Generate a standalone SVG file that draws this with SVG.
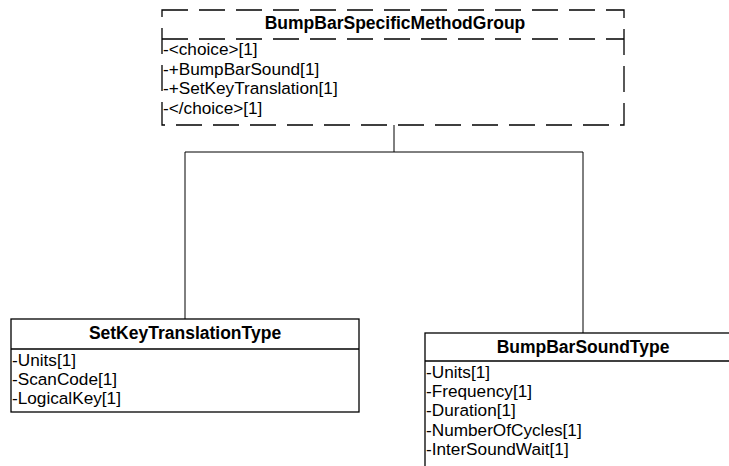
<svg xmlns="http://www.w3.org/2000/svg" width="729" height="466" viewBox="0 0 729 466">
<style>
.box{fill:#fff;stroke:#000;stroke-width:1.3}
.dash{fill:none;stroke:#000;stroke-width:1.3;stroke-dasharray:26 11}
.title{font-family:"Liberation Sans",Arial,sans-serif;font-size:17.5px;font-weight:bold;text-anchor:middle;fill:#000}
.attr{font-family:"Liberation Sans",Arial,sans-serif;font-size:17.2px;fill:#000}
.conn{fill:none;stroke:#000;stroke-width:1}
</style>
<rect width="729" height="466" fill="#fff"/>
<g id="connectors">
<polyline class="conn" points="394,125 394,152"/>
<polyline class="conn" points="185,319 185,152 583,152 583,333"/>
</g>
<g id="BumpBarSpecificMethodGroup">
<rect x="162" y="10" width="462" height="115" fill="#fff"/>
<rect class="dash" x="162" y="10" width="462" height="115"/>
<line class="dash" x1="162" y1="39" x2="624" y2="39"/>
<text class="title" x="395" y="29">BumpBarSpecificMethodGroup</text>
<text class="attr" x="163" y="55">-&lt;choice&gt;[1]</text>
<text class="attr" x="163" y="75">-+BumpBarSound[1]</text>
<text class="attr" x="163" y="94">-+SetKeyTranslation[1]</text>
<text class="attr" x="163" y="114">-&lt;/choice&gt;[1]</text>
</g>
<g id="SetKeyTranslationType">
<rect class="box" x="11" y="319" width="348" height="93"/>
<line class="box" x1="11" y1="349" x2="359" y2="349"/>
<text class="title" x="185" y="339">SetKeyTranslationType</text>
<text class="attr" x="12" y="366">-Units[1]</text>
<text class="attr" x="12" y="385">-ScanCode[1]</text>
<text class="attr" x="12" y="404">-LogicalKey[1]</text>
</g>
<g id="BumpBarSoundType">
<rect class="box" x="425" y="333" width="316" height="140"/>
<line class="box" x1="425" y1="361" x2="741" y2="361"/>
<text class="title" x="583" y="353">BumpBarSoundType</text>
<text class="attr" x="426" y="378">-Units[1]</text>
<text class="attr" x="426" y="397">-Frequency[1]</text>
<text class="attr" x="426" y="416">-Duration[1]</text>
<text class="attr" x="426" y="436">-NumberOfCycles[1]</text>
<text class="attr" x="426" y="455">-InterSoundWait[1]</text>
</g>
</svg>
